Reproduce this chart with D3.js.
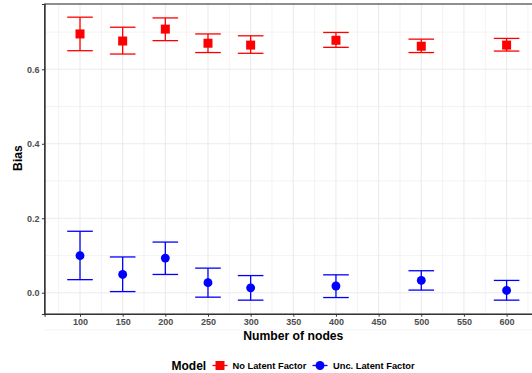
<!DOCTYPE html>
<html>
<head>
<meta charset="utf-8">
<script src="https://cdn.jsdelivr.net/npm/d3@7"></script>
<style>
  body { margin: 0; background: #fff; }
  svg { display: block; font-family: "Liberation Sans", Arial, sans-serif; }
</style>
</head>
<body>
<svg width="532" height="373"></svg>
<script>
var svg = d3.select('svg');

// data
var nodes = [100, 150, 200, 250, 300, 400, 500, 600];
var noLatent = [0.695, 0.676, 0.708, 0.670, 0.665, 0.678, 0.662, 0.665];
var noLatentLo = [0.650, 0.641, 0.677, 0.645, 0.643, 0.659, 0.645, 0.649];
var noLatentHi = [0.740, 0.713, 0.738, 0.695, 0.690, 0.699, 0.681, 0.683];
var uncLatent = [0.0995, 0.049, 0.093, 0.027, 0.013, 0.018, 0.033, 0.006];
var uncLatentLo = [0.035, 0.003, 0.049, -0.012, -0.020, -0.013, 0.007, -0.020];
var uncLatentHi = [0.165, 0.096, 0.136, 0.066, 0.046, 0.048, 0.059, 0.033];
var xTicks = [100, 150, 200, 250, 300, 350, 400, 450, 500, 550, 600];
var yTicks = [0.0, 0.2, 0.4, 0.6];

var series = [
  { name: 'No Latent Factor', color: '#ff0000', shape: 'square', y: noLatent, lo: noLatentLo, hi: noLatentHi },
  { name: 'Unc. Latent Factor', color: '#0000ff', shape: 'circle', y: uncLatent, lo: uncLatentLo, hi: uncLatentHi }
];

var pLeft = 44.6, pRight = 542, pTop = 4, pBottom = 314;
var x = d3.scaleLinear().domain([58.5, 641.5]).range([pLeft, pRight]);
var y = d3.scaleLinear().domain([-0.0572, 0.7754]).range([pBottom, pTop]);

var grid = svg.append('g');
// minor grid
grid.selectAll('line.mx').data(d3.range(75, 650, 50)).enter().append('line')
  .attr('x1', x).attr('x2', x).attr('y1', pTop).attr('y2', pBottom)
  .attr('stroke', '#ebebeb').attr('stroke-width', 0.6);
grid.selectAll('line.my').data([-0.1, 0.1, 0.3, 0.5, 0.7]).enter().append('line')
  .attr('y1', y).attr('y2', y).attr('x1', pLeft).attr('x2', pRight)
  .attr('stroke', '#ebebeb').attr('stroke-width', 0.6);
// major grid
grid.selectAll('line.Mx').data(xTicks).enter().append('line')
  .attr('x1', x).attr('x2', x).attr('y1', pTop).attr('y2', pBottom)
  .attr('stroke', '#ebebeb').attr('stroke-width', 1.1);
grid.selectAll('line.My').data(yTicks).enter().append('line')
  .attr('y1', y).attr('y2', y).attr('x1', pLeft).attr('x2', pRight)
  .attr('stroke', '#ebebeb').attr('stroke-width', 1.1);

// error bars + points
series.forEach(function(s) {
  var g = svg.append('g');
  var rows = nodes.map(function(n, i) { return { x: n, y: s.y[i], lo: s.lo[i], hi: s.hi[i] }; });
  var bars = g.selectAll('g.bar').data(rows).enter().append('g')
    .attr('stroke', s.color).attr('stroke-width', 1.3);
  bars.append('line')
    .attr('x1', function(d) { return x(d.x); }).attr('x2', function(d) { return x(d.x); })
    .attr('y1', function(d) { return y(d.lo); }).attr('y2', function(d) { return y(d.hi); });
  bars.append('line')
    .attr('x1', function(d) { return x(d.x - 15); }).attr('x2', function(d) { return x(d.x + 15); })
    .attr('y1', function(d) { return y(d.lo); }).attr('y2', function(d) { return y(d.lo); });
  bars.append('line')
    .attr('x1', function(d) { return x(d.x - 15); }).attr('x2', function(d) { return x(d.x + 15); })
    .attr('y1', function(d) { return y(d.hi); }).attr('y2', function(d) { return y(d.hi); });
  var sym = d3.symbol().type(s.shape === 'square' ? d3.symbolSquare : d3.symbolCircle)
    .size(s.shape === 'square' ? 81 : 62);
  g.selectAll('path.pt').data(rows).enter().append('path')
    .attr('d', sym)
    .attr('transform', function(d) { return 'translate(' + x(d.x) + ',' + y(d.y) + ')'; })
    .attr('fill', s.color);
});

// panel border
svg.append('rect').attr('x', pLeft).attr('y', pTop).attr('width', pRight - pLeft).attr('height', pBottom - pTop)
  .attr('fill', 'none').attr('stroke', '#333').attr('stroke-width', 1.1);

// axes
var xAxis = svg.append('g').attr('transform', 'translate(0,' + pBottom + ')')
  .call(d3.axisBottom(x).tickValues(xTicks).tickSize(2.7).tickPadding(2));
var yAxis = svg.append('g').attr('transform', 'translate(' + pLeft + ',0)')
  .call(d3.axisLeft(y).tickValues(yTicks).tickSize(2.7).tickPadding(2.3).tickFormat(d3.format('.1f')));
[xAxis, yAxis].forEach(function(a) {
  a.select('.domain').attr('stroke', '#333').attr('stroke-width', 1.1);
  a.selectAll('.tick line').attr('stroke', '#333').attr('stroke-width', 1);
  a.selectAll('.tick text').attr('fill', '#4d4d4d').style('font-size', '9px').style('font-weight', 'bold')
    .style('font-family', '"Liberation Sans", Arial, sans-serif');
});

// titles
svg.append('text').attr('x', (pLeft + pRight) / 2).attr('y', 339.5).attr('text-anchor', 'middle')
  .style('font-size', '12.2px').style('font-weight', 'bold').text('Number of nodes');
svg.append('text').attr('transform', 'translate(21.5,158) rotate(-90)').attr('text-anchor', 'middle')
  .style('font-size', '12.2px').style('font-weight', 'bold').text('Bias');

// legend
var lg = svg.append('g');
lg.append('text').attr('x', 171.5).attr('y', 370).style('font-size', '12px').style('font-weight', 'bold').text('Model');
var keyX = [220, 320], labX = [232.5, 333];
series.forEach(function(s, i) {
  lg.append('line').attr('x1', keyX[i] - 7.5).attr('x2', keyX[i] + 7.5).attr('y1', 365.5).attr('y2', 365.5)
    .attr('stroke', s.color).attr('stroke-width', 1.3);
  lg.append('path')
    .attr('d', d3.symbol().type(s.shape === 'square' ? d3.symbolSquare : d3.symbolCircle).size(s.shape === 'square' ? 81 : 62))
    .attr('transform', 'translate(' + keyX[i] + ',365.5)').attr('fill', s.color);
  lg.append('text').attr('x', labX[i]).attr('y', 368.8).style('font-size', '9.3px').style('font-weight', 'bold')
    .text(s.name);
});
</script>
</body>
</html>
